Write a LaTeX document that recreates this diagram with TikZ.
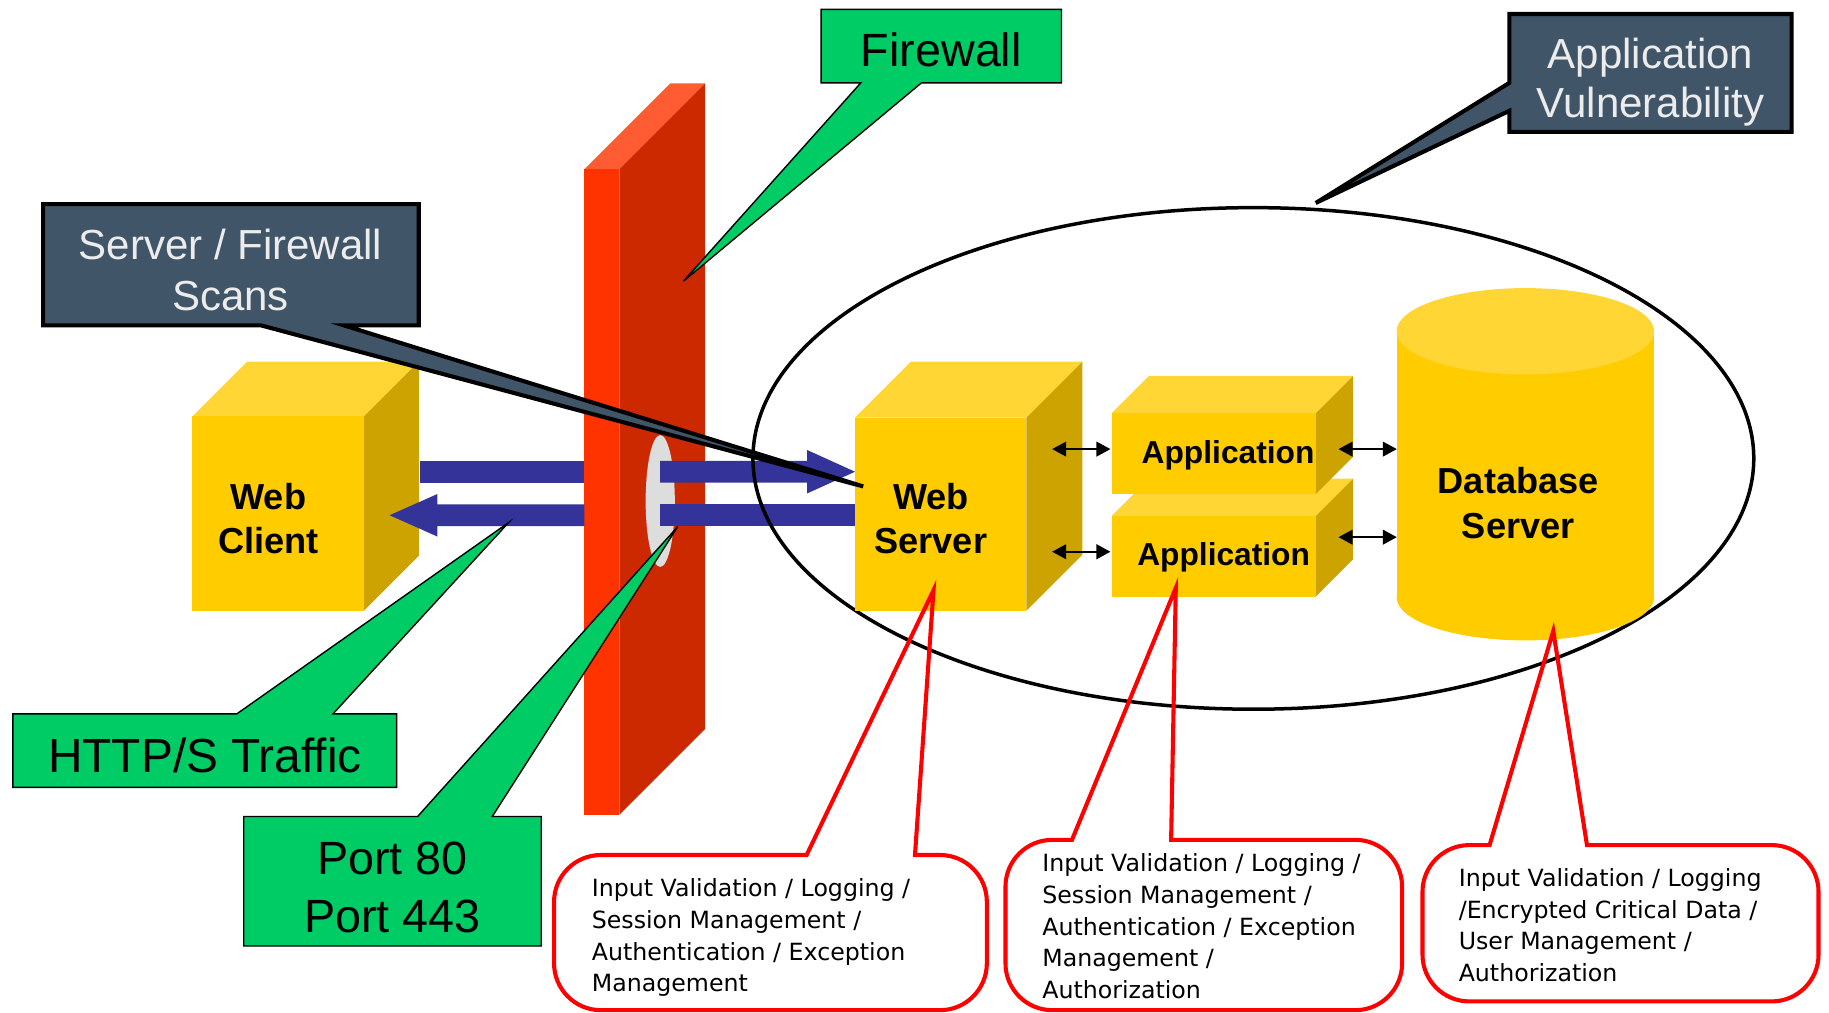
\documentclass[tikz,border=0pt]{standalone}
\usepackage{fontspec}
\setmainfont{Liberation Sans}
\newfontfamily\notefont{DejaVu Sans}
\usetikzlibrary{arrows.meta}

\definecolor{callgreen}{RGB}{0,204,102}
\definecolor{slate}{RGB}{65,85,105}
\definecolor{slatetext}{RGB}{236,236,236}
\definecolor{fwfront}{RGB}{255,51,0}
\definecolor{fwtop}{RGB}{255,92,51}
\definecolor{fwside}{RGB}{204,41,0}
\definecolor{holegray}{RGB}{221,221,221}
\definecolor{flowblue}{RGB}{51,51,153}
\definecolor{yfront}{RGB}{255,204,0}
\definecolor{ytop}{RGB}{255,214,51}
\definecolor{yside}{RGB}{204,163,0}
\definecolor{notered}{RGB}{255,0,0}

\tikzset{
  greencall/.style={fill=callgreen, draw=black, line width=1.2pt, line join=miter},
  slatecall/.style={fill=slate, draw=black, line width=3.5pt, line join=miter},
  calltext/.style={anchor=base, inner sep=0pt, text=black},
  slatelabel/.style={anchor=base, inner sep=0pt, text=slatetext},
  boxlabel/.style={anchor=base, inner sep=0pt, font=\bfseries\fontsize{31}{37.7}\selectfont},
  applabel/.style={anchor=base, inner sep=0pt, font=\bfseries\fontsize{27.2}{30}\selectfont},
  notetext/.style={anchor=base west, inner sep=0pt, font=\notefont\fontsize{20.3}{27.2}\selectfont},
  noteline/.style={draw=notered, line width=3.5pt, line join=miter},
  link/.style={line width=1.8pt, {Triangle[length=12pt,width=12.5pt]}-{Triangle[length=12pt,width=12.5pt]}},
}

% two centred lines, first baseline on the node's base
\newcommand\pairlines[2]{\begin{tabular}[t]{@{}c@{}}#1\\#2\end{tabular}}
% left-aligned lines, first baseline on the node's base
\newcommand\leftlines[1]{\begin{tabular}[t]{@{}l@{}}#1\end{tabular}}

% box in perspective: front top-left (#1,#2), width #3, height #4, depth #5
\newcommand\yellowcube[5]{%
  \fill[ytop] (#1,#2) -- ++(#5,-#5) -- ++(#3,0) -- ++(-#5,#5) -- cycle;
  \fill[yside] (#1+#3,#2) -- ++(#5,-#5) -- ++(0,#4) -- ++(-#5,#5) -- cycle;
  \fill[yfront] (#1,#2) rectangle ++(#3,#4);
}

% rounded note with a pointer: left #1, top #2, right #3, bottom #4,
% pointer base from x=#5 to x=#6, pointer tip #7
\newcommand\notebubble[7]{%
  \draw[noteline] (#5,#2) -- (#1+40,#2)
    .. controls (#1+18,#2) and (#1,#2+18) .. (#1,#2+40)
    -- (#1,#4-40)
    .. controls (#1,#4-18) and (#1+18,#4) .. (#1+40,#4)
    -- (#3-40,#4)
    .. controls (#3-18,#4) and (#3,#4-18) .. (#3,#4-40)
    -- (#3,#2+40)
    .. controls (#3,#2+18) and (#3-18,#2) .. (#3-40,#2)
    -- (#6,#2) -- (#7) -- cycle;
}

\begin{document}
\begin{tikzpicture}[x=1pt,y=-1pt]
\useasboundingbox (0,0) rectangle (1568,868);

% firewall wall
\fill[fwtop] (501,145) -- (574.5,71.5) -- (604.5,71.5) -- (531,145) -- cycle;
\fill[fwside] (531,145) -- (604.5,71.5) -- (604.5,625) -- (531,698.5) -- cycle;
\fill[fwfront] (501,145) rectangle (531,698.5);
% opening in the wall
\fill[holegray] (566,429.5) ellipse [x radius=12.5, y radius=56.5];

% web client
\yellowcube{165}{357}{147}{166.5}{47}

% traffic through the firewall
\fill[flowblue] (360,395) rectangle (501,413.8);
\fill[flowblue] (566,395) -- (692,395) -- (692,385.8) -- (733,404.4)
  -- (692,423) -- (692,413.8) -- (566,413.8) -- cycle;
\fill[flowblue] (566,432.4) rectangle (733,451);
\fill[flowblue] (501,432.4) -- (375,432.4) -- (375,423.5) -- (334,441.7)
  -- (375,460) -- (375,451) -- (501,451) -- cycle;

% application zone
\draw[line width=3pt] (1074.5,393) ellipse [x radius=429, y radius=215];

% web server and application tiers
\yellowcube{733}{358}{147}{165.5}{48}
\yellowcube{953}{442.4}{175}{69}{32}
\yellowcube{953}{354.3}{175}{69.2}{32}

% database cylinder
\fill[yfront] (1307.7,512) ellipse [x radius=110.4, y radius=37];
\fill[yfront] (1197.3,284) rectangle (1418,512);
\fill[ytop] (1307.7,284) ellipse [x radius=110.4, y radius=37];

% component labels
\node[boxlabel] (client) at (230,437) {\pairlines{Web}{Client}};
\node[boxlabel] (webserver) at (798,436.6) {\pairlines{Web}{Server}};
\node[applabel] (app1) at (1052.8,397.2) {Application};
\node[applabel] (app2) at (1049,484.4) {Application};
\node[boxlabel, font=\bfseries\fontsize{31}{38.5}\selectfont] (database) at (1301.6,423) {\pairlines{Database}{Server}};

% links between tiers
\coordinate (ws1) at (902,385);   \coordinate (ap1l) at (952,385);
\coordinate (ws2) at (902,473);   \coordinate (ap2l) at (952,473);
\coordinate (ap1r) at (1147.5,385); \coordinate (db1) at (1197.5,385);
\coordinate (ap2r) at (1147.5,460.5); \coordinate (db2) at (1197.5,460.5);
\draw[link] (ws1) -- (ap1l);
\draw[link] (ws2) -- (ap2l);
\draw[link] (ap1r) -- (db1);
\draw[link] (ap2r) -- (db2);

% callouts
\draw[greencall] (704,8) -- (910,8) -- (910,71) -- (790,71) -- (586,241)
  -- (738,71) -- (704,71) -- cycle;
\node[calltext, font=\fontsize{40}{48}\selectfont] (fwlabel) at (807,57.2) {Firewall};

\draw[slatecall] (1294,12) -- (1536,12) -- (1536,113) -- (1294,113)
  -- (1294,95) -- (1128,174) -- (1294,71) -- cycle;
\node[slatelabel, font=\fontsize{36}{42}\selectfont] (vulnlabel) at (1415,58.6)
  {\pairlines{Application}{Vulnerability}};

\draw[slatecall] (37,175) -- (359,175) -- (359,279) -- (295,279) -- (740,417)
  -- (224,279) -- (37,279) -- cycle;
\node[slatelabel, font=\fontsize{36}{43.5}\selectfont] (scanlabel) at (197.6,222.3)
  {\pairlines{Server / Firewall}{Scans}};

\draw[greencall] (11,612) -- (203,612) -- (436,448) -- (285.5,612) -- (340,612)
  -- (340,675) -- (11,675) -- cycle;
\node[calltext, font=\fontsize{41}{48}\selectfont] (httplabel) at (175.7,662) {HTTP/S Traffic};

\draw[greencall] (209,700) -- (358,700) -- (581,451.5) -- (422,700) -- (464,700)
  -- (464,811) -- (209,811) -- cycle;
\node[calltext, font=\fontsize{40}{50}\selectfont] (portlabel) at (336.5,749.3)
  {\pairlines{Port 80}{Port 443}};

% control notes
\notebubble{475}{733}{846}{866}{691.5}{784.4}{800.3,506}
\node[notetext] (note1) at (507.2,768.7) {\leftlines{Input Validation / Logging /\\
  Session Management /\\ Authentication / Exception\\ Management}};

\notebubble{862}{720}{1202}{866}{919}{1004}{1008,504}
\node[notetext] (note2) at (893.4,747.3) {\leftlines{Input Validation / Logging /\\
  Session Management /\\ Authentication / Exception\\ Management /\\ Authorization}};

\notebubble{1219.5}{724.5}{1559}{858.5}{1277}{1360.5}{1331.6,541}
\node[notetext] (note3) at (1250.4,760) {\leftlines{Input Validation / Logging\\
  /Encrypted Critical Data /\\ User Management /\\ Authorization}};
\end{tikzpicture}
\end{document}
